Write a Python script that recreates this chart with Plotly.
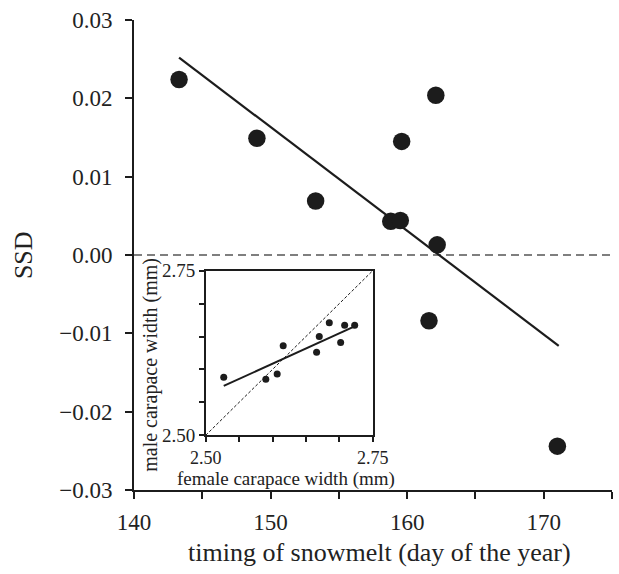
import plotly.graph_objects as go

# Main panel data
snowmelt = [143.3, 149.0, 153.3, 158.8, 159.5, 159.6, 162.1, 162.2, 161.6, 171.0]
ssd = [0.0224, 0.0149, 0.0069, 0.0043, 0.0044, 0.0145, 0.0204, 0.0013, -0.0084, -0.0244]
fit_x = [143.3, 171.1]
fit_y = [0.0252, -0.0116]
zero_x = [140, 175]
zero_y = [0, 0]

# Inset data
female = [2.527, 2.590, 2.607, 2.616, 2.666, 2.670, 2.685, 2.702, 2.708, 2.723]
male = [2.588, 2.585, 2.593, 2.636, 2.626, 2.650, 2.671, 2.641, 2.667, 2.667]
inset_fit_x = [2.527, 2.722]
inset_fit_y = [2.575, 2.665]
one_to_one = [2.50, 2.75]
inset_ticks = [2.50, 2.55, 2.60, 2.65, 2.70, 2.75]
inset_ticktext = ["2.50", "", "", "", "", "2.75"]

FONT = "Liberation Serif"
INK = "#1c1c1c"

fig = go.Figure()
fig.add_trace(go.Scatter(x=zero_x, y=zero_y, mode="lines",
                         line=dict(color="#555555", width=1.5, dash="8px,5px"),
                         hoverinfo="skip", showlegend=False))
fig.add_trace(go.Scatter(x=fit_x, y=fit_y, mode="lines",
                         line=dict(color=INK, width=2.2), showlegend=False))
fig.add_trace(go.Scatter(x=snowmelt, y=ssd, mode="markers",
                         marker=dict(size=17.5, color=INK), showlegend=False))

# inset
fig.add_trace(go.Scatter(x=one_to_one, y=one_to_one, mode="lines",
                         line=dict(color=INK, width=1, dash="3px,2px"),
                         xaxis="x2", yaxis="y2", showlegend=False))
fig.add_trace(go.Scatter(x=inset_fit_x, y=inset_fit_y, mode="lines",
                         line=dict(color=INK, width=2), xaxis="x2", yaxis="y2",
                         showlegend=False))
fig.add_trace(go.Scatter(x=female, y=male, mode="markers",
                         marker=dict(size=7, color=INK), xaxis="x2", yaxis="y2",
                         showlegend=False))

fig.update_layout(
    width=619, height=574,
    margin=dict(l=134, r=7, t=20, b=84),
    paper_bgcolor="white", plot_bgcolor="white",
    font=dict(family=FONT, color="#222222"),
    showlegend=False,
    xaxis=dict(range=[140, 175], tick0=140, dtick=10, showgrid=False, zeroline=False,
               showline=True, linecolor=INK, linewidth=2, ticks="outside",
               ticklen=7, tickwidth=2, tickcolor=INK, tickfont=dict(size=23),
               ticklabelstandoff=3, automargin=False,
               minor=dict(dtick=5, ticks="outside", ticklen=7, tickwidth=2,
                          tickcolor=INK, showgrid=False)),
    yaxis=dict(range=[-0.03, 0.03], tick0=0, dtick=0.01, tickformat=".2f",
               showgrid=False, zeroline=False, showline=True, linecolor=INK,
               linewidth=2, ticks="outside", ticklen=7, tickwidth=2,
               tickcolor=INK, tickfont=dict(size=23), ticklabelstandoff=8,
               automargin=False),
    xaxis2=dict(domain=[0.150, 0.4994], anchor="y2", range=[2.50, 2.75],
                tickvals=inset_ticks, ticktext=inset_ticktext, showgrid=False,
                zeroline=False, showline=True, mirror=True, linecolor=INK,
                linewidth=1.5, ticks="outside", ticklen=5, tickwidth=1.5,
                tickcolor=INK, tickfont=dict(size=18), automargin=False),
    yaxis2=dict(domain=[0.1164, 0.4666], anchor="x2", range=[2.50, 2.75],
                tickvals=inset_ticks, ticktext=inset_ticktext, showgrid=False,
                zeroline=False, showline=True, mirror=True, linecolor=INK,
                linewidth=1.5, ticks="outside", ticklen=5, tickwidth=1.5,
                tickcolor=INK, tickfont=dict(size=19), automargin=False),
    annotations=[
        dict(text="timing of snowmelt (day of the year)", xref="paper", yref="paper",
             x=0.5126, y=-0.134, xanchor="center", yanchor="middle",
             showarrow=False, font=dict(size=26)),
        dict(text="SSD", xref="paper", yref="paper", x=-0.232, y=0.5,
             xanchor="center", yanchor="middle", textangle=-90,
             showarrow=False, font=dict(size=26)),
        dict(text="female carapace width (mm)", xref="paper", yref="paper",
             x=0.318, y=0.024, xanchor="center", yanchor="middle",
             showarrow=False, font=dict(size=19)),
        dict(text="male carapace width (mm)", xref="paper", yref="paper",
             x=0.034, y=0.267, xanchor="center", yanchor="middle", textangle=-90,
             showarrow=False, font=dict(size=20)),
    ],
)

fig.write_html(
    "out.html",
    config={"displayModeBar": False},
    post_script="document.body.style.margin='0';document.body.style.overflow='hidden';",
)
